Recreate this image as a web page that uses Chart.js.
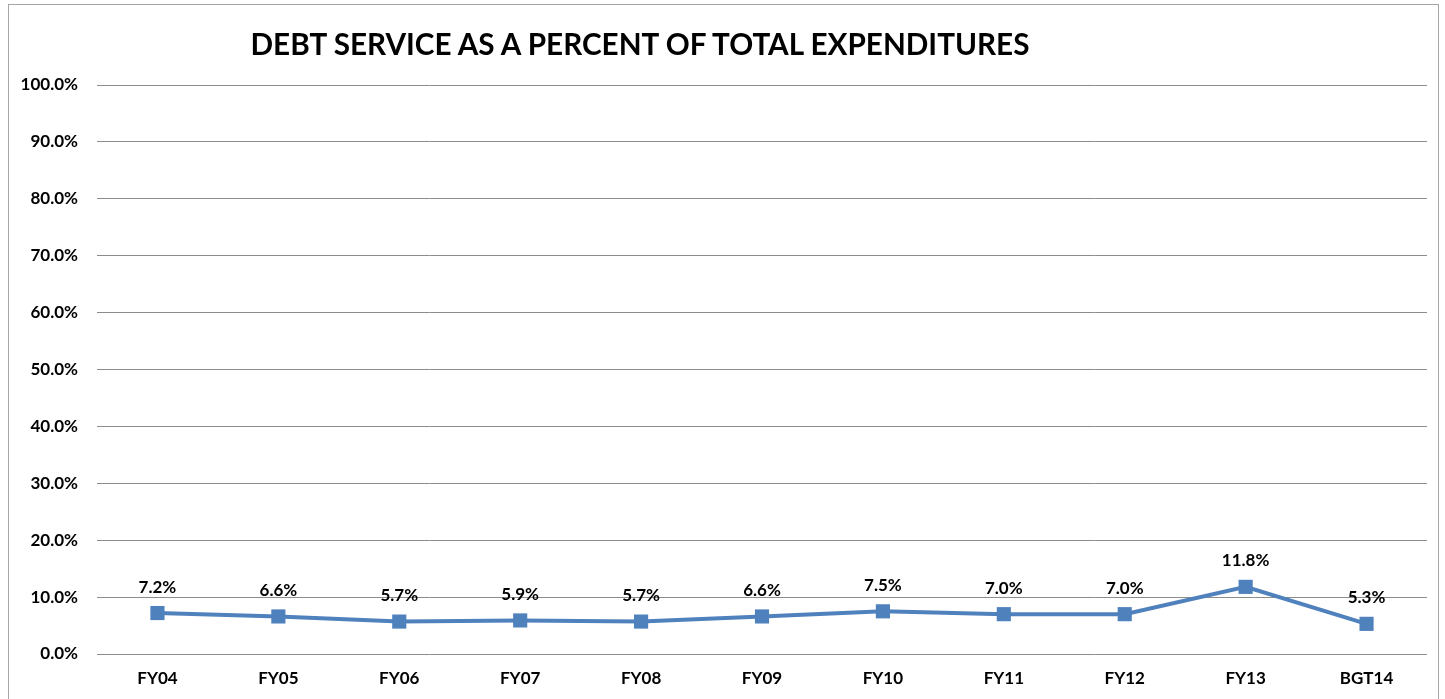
<!DOCTYPE html>
<html>
<head>
<meta charset="utf-8">
<script src="https://cdn.jsdelivr.net/npm/chart.js@4"></script>
<style>
  html, body { margin:0; padding:0; background:#fff; }
  #wrap { position:relative; width:1445px; height:699px; overflow:hidden; }
  #frame { position:absolute; left:8px; top:4px; width:1431px; height:720px; border:1px solid #a6a6a6; box-sizing:border-box; }
  #title { position:absolute; left:0; top:24px; width:1280px; text-align:center; font-family:Lato, "Open Sans", sans-serif; font-weight:bold; font-size:29.7px; line-height:40px; color:#000; margin:0; white-space:nowrap; }
  canvas { position:absolute; left:0; top:0; }
</style>
</head>
<body>
<div id="wrap">
  <div id="frame"></div>
  <canvas id="c" width="1445" height="699"></canvas>
  <h1 id="title">DEBT SERVICE AS A PERCENT OF TOTAL EXPENDITURES</h1>
</div>
<script>
const categories = ["FY04","FY05","FY06","FY07","FY08","FY09","FY10","FY11","FY12","FY13","BGT14"];
const debtServicePct = [7.2, 6.6, 5.7, 5.9, 5.7, 6.6, 7.5, 7.0, 7.0, 11.8, 5.3];
const yTicks = [0,10,20,30,40,50,60,70,80,90,100];

const FONT = "Lato, 'Open Sans', sans-serif";

const dataLabels = {
  id: 'dataLabels',
  afterDatasetsDraw(chart) {
    const ctx = chart.ctx;
    const meta = chart.getDatasetMeta(0);
    ctx.save();
    ctx.font = "bold 17px " + FONT;
    ctx.fillStyle = "#000";
    ctx.textAlign = "center";
    ctx.textBaseline = "middle";
    meta.data.forEach((pt, i) => {
      const v = chart.data.datasets[0].data[i];
      ctx.fillText(v.toFixed(1) + "%", pt.x, pt.y - 26);
    });
    ctx.restore();
  }
};

new Chart(document.getElementById('c'), {
  type: 'line',
  data: {
    labels: categories,
    datasets: [{
      data: debtServicePct,
      borderColor: '#4F81BD',
      backgroundColor: '#4F81BD',
      borderWidth: 4,
      pointStyle: 'rect',
      pointRadius: 10,
      pointHoverRadius: 10,
      pointBorderWidth: 0,
      tension: 0
    }]
  },
  options: {
    responsive: false,
    animation: false,
    events: [],
    layout: { padding: { top: 85, right: 18, bottom: 0, left: 0 } },
    plugins: { legend: { display: false }, tooltip: { enabled: false }, title: { display: false } },
    scales: {
      x: {
        offset: true,
        grid: { display: false, drawTicks: false },
        border: { display: false },
        ticks: { color: '#000', font: { family: FONT, weight: 'bold', size: 17 }, padding: 14 },
        afterFit(scale) { scale.height = 45; }
      },
      y: {
        min: 0, max: 100,
        afterBuildTicks(scale) { scale.ticks = yTicks.map(v => ({ value: v })); },
        grid: { color: '#8c8c8c', lineWidth: 1, drawTicks: false },
        border: { display: false },
        ticks: {
          color: '#000',
          font: { family: FONT, weight: 'bold', size: 17 },
          padding: 19,
          callback: v => v.toFixed(1) + '%'
        },
        afterFit(scale) { scale.width = 97; }
      }
    }
  },
  plugins: [dataLabels]
});
</script>
</body>
</html>
